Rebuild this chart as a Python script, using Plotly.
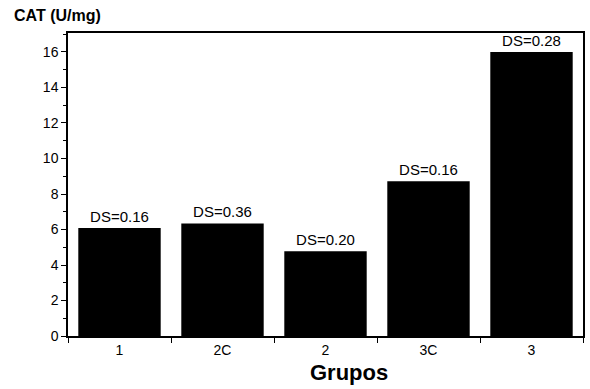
import plotly.graph_objects as go

groups = ["1", "2C", "2", "3C", "3"]
cat_values = [6.08, 6.34, 4.78, 8.72, 16.0]
ds_labels = ["DS=0.16", "DS=0.36", "DS=0.20", "DS=0.16", "DS=0.28"]

FONT = "Liberation Sans, Arial, sans-serif"

fig = go.Figure(
    go.Bar(
        x=groups,
        y=cat_values,
        text=ds_labels,
        textposition="outside",
        textfont=dict(family=FONT, size=15, color="black"),
        marker=dict(color="black", line=dict(width=0)),
        width=0.8,
        cliponaxis=False,
        hoverinfo="skip",
    )
)

fig.update_layout(
    width=590,
    height=389,
    margin=dict(l=68, r=5, t=33, b=53),
    paper_bgcolor="white",
    plot_bgcolor="white",
    showlegend=False,
    font=dict(family=FONT, color="black"),
    xaxis=dict(
        type="category",
        range=[-0.5, 4.5],
        showline=True,
        linecolor="black",
        linewidth=1.5,
        mirror=True,
        ticks="outside",
        tickson="boundaries",
        ticklen=5,
        tickcolor="black",
        tickfont=dict(family=FONT, size=14, color="black"),
        showgrid=False,
        zeroline=False,
    ),
    yaxis=dict(
        range=[0, 17.07],
        tick0=0,
        dtick=2,
        showline=True,
        linecolor="black",
        linewidth=1.5,
        mirror=True,
        ticks="outside",
        ticklen=5,
        tickcolor="black",
        tickfont=dict(family=FONT, size=14, color="black"),
        showgrid=False,
        zeroline=False,
        minor=dict(ticks="outside", dtick=1, ticklen=3, tickcolor="black", showgrid=False),
    ),
    annotations=[
        dict(
            text="<b>CAT (U/mg)</b>",
            xref="paper", yref="paper",
            x=-0.108, y=1.0, xanchor="left", yanchor="bottom", yshift=7,
            showarrow=False,
            font=dict(family=FONT, size=16, color="black"),
        ),
        dict(
            text="<b>Grupos</b>",
            xref="paper", yref="paper",
            x=0.545, y=0, xanchor="center", yanchor="middle", yshift=-36,
            showarrow=False,
            font=dict(family=FONT, size=22, color="black"),
        ),
    ],
)

fig.write_html("out.html")
